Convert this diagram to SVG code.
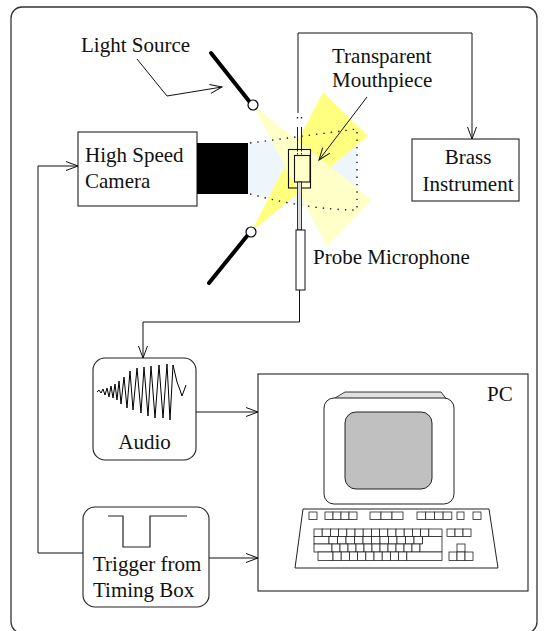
<svg xmlns="http://www.w3.org/2000/svg" width="544" height="631" viewBox="0 0 544 631">
  <defs>
    <marker id="vee" markerUnits="userSpaceOnUse" markerWidth="14" markerHeight="12" refX="12" refY="4.5" orient="auto" overflow="visible">
      <path d="M0,0 L12,4.5 L0,9" fill="none" stroke="#111" stroke-width="1"/>
    </marker>
  </defs>
  <style>
    text { font-family: "Liberation Serif", "Times New Roman", serif; font-size: 21px; fill: #111; }
    .box { fill: #fff; stroke: #222; stroke-width: 1.1; }
    .wire { fill: none; stroke: #111; stroke-width: 1; }
    .dots { fill: none; stroke: #222; stroke-width: 1.4; stroke-dasharray: 1.4 6; }
    .key { fill: #fff; stroke: #222; stroke-width: 0.8; }
    .stand { stroke: #000; stroke-width: 4; stroke-linecap: round; }
    .lamp { fill: #fff; stroke: #000; stroke-width: 1.2; }
  </style>

  <!-- outer frame -->
  <rect x="11" y="7" width="526" height="626" rx="11" fill="#fff" stroke="#333" stroke-width="1.3"/>

  <!-- optical setup: camera field of view and light cones -->
  <g id="optics">
    <path d="M248,143 L357,129 L357,210 Q310,210 248,194 Z" fill="#eef6fc"/>
    <polygon points="251,232 323,92 368,136" fill="#ffff80"/>
    <polygon points="253,105 372,200 327,246" fill="#ffffc8"/>
    <path class="dots" d="M250,143 L357,129 L357,210 Q310,210 250,194"/>
  </g>

  <!-- light sources -->
  <g id="light-top">
    <line class="stand" x1="211" y1="53" x2="249" y2="101"/>
    <circle class="lamp" cx="253" cy="105" r="5"/>
  </g>
  <g id="light-bottom">
    <line class="stand" x1="247" y1="236" x2="209" y2="283"/>
    <circle class="lamp" cx="251" cy="232" r="5"/>
  </g>
  <g id="light-label">
    <text x="81" y="52">Light Source</text>
  </g>

  <!-- camera -->
  <g id="camera">
    <rect class="box" x="78" y="132" width="119" height="74"/>
    <rect x="197" y="143" width="51" height="51" fill="#000"/>
    <text x="85" y="162">High Speed</text>
    <text x="85" y="188">Camera</text>
  </g>

  <!-- mouthpiece with probe tube -->
  <g id="mouthpiece">
    <line x1="297.5" y1="127" x2="297.5" y2="149" stroke="#222" stroke-width="1"/>
    <line x1="301.5" y1="127" x2="301.5" y2="149" stroke="#222" stroke-width="1"/>
    <path class="dots" d="M297.5,117 V122 M301.5,117 V122" stroke-dasharray="1.4 4"/>
    <rect x="288.5" y="149.5" width="22" height="38.5" fill="none" stroke="#111" stroke-width="1.1"/>
    <path d="M297.5,150 V155 M301.5,150 V155" stroke="#222" stroke-width="1" stroke-dasharray="1.5 1.5"/>
    <rect x="294.5" y="155.5" width="15.5" height="26.5" fill="#ffffc8" stroke="#111" stroke-width="1.1"/>
    <text x="332" y="63">Transparent</text>
    <text x="332" y="87">Mouthpiece</text>
  </g>

  <!-- probe microphone -->
  <g id="probe">
    <rect x="297.5" y="182" width="4" height="48" fill="#ddd" stroke="#222" stroke-width="0.9"/>
    <rect x="296" y="230" width="9" height="60" fill="#fff" stroke="#111" stroke-width="1"/>
    <text x="313" y="264">Probe Microphone</text>
  </g>

  <!-- brass instrument -->
  <g id="brass">
    <rect class="box" x="412" y="139" width="107" height="62"/>
    <text x="468" y="164" text-anchor="middle">Brass</text>
    <text x="468" y="191" text-anchor="middle">Instrument</text>
  </g>

  <!-- audio -->
  <g id="audio">
    <rect class="box" x="93" y="358" width="103" height="102" rx="12"/>
    <polyline fill="none" stroke="#000" stroke-width="1" stroke-linejoin="miter" points="97,392 99,390 101,393 103,389 105,395 107,388 109,397 111,386 113,398 115,384 117,400 119,381 121,404 124,377 127,408 130,371 133,410 137,368 141,413 144,367 148,416 151,366 155,418 159,365 163,418 167,364 170,420 173,365 177,382 180,390 182,396 186,385"/>
    <text x="144.5" y="449" text-anchor="middle">Audio</text>
  </g>

  <!-- trigger -->
  <g id="trigger">
    <rect class="box" x="83" y="507" width="126" height="100" rx="12"/>
    <polyline fill="none" stroke="#222" stroke-width="1.2" points="108,516 123,516 123,547 150,547 150,516 187,516"/>
    <text x="93" y="571">Trigger from</text>
    <text x="93" y="597">Timing Box</text>
  </g>

  <!-- PC -->
  <g id="pc">
    <rect class="box" x="258" y="374" width="270" height="217"/>
    <text x="487" y="401">PC</text>
    <!-- monitor -->
    <polygon points="345,392 441,392 448,401 330,401" fill="#e0e0e0" stroke="#222" stroke-width="0.9"/>
    <rect x="324" y="398" width="130" height="106" rx="10" fill="#fff" stroke="#222" stroke-width="1"/>
    <rect x="345" y="412" width="87" height="77" rx="11" fill="#c0c0c0" stroke="#222" stroke-width="1"/>
    <!-- keyboard -->
    <polygon points="303,509 489,509 498,568 295,568" fill="#fff" stroke="#222" stroke-width="1"/>
    <g id="keys">
      <!-- function row -->
      <rect class="key" x="309" y="512" width="8" height="7.5"/>
      <rect class="key" x="325" y="512" width="8" height="7.5"/>
      <rect class="key" x="333" y="512" width="8" height="7.5"/>
      <rect class="key" x="341" y="512" width="8" height="7.5"/>
      <rect class="key" x="349" y="512" width="8" height="7.5"/>
      <rect class="key" x="370" y="512" width="11" height="7.5"/>
      <rect class="key" x="381" y="512" width="11" height="7.5"/>
      <rect class="key" x="392" y="512" width="11" height="7.5"/>
      <rect class="key" x="417" y="512" width="8.7" height="7.5"/>
      <rect class="key" x="425.7" y="512" width="8.7" height="7.5"/>
      <rect class="key" x="434.4" y="512" width="8.7" height="7.5"/>
      <rect class="key" x="443.1" y="512" width="8.7" height="7.5"/>
      <rect class="key" x="457" y="512" width="7" height="7.5"/>
      <rect class="key" x="473" y="512" width="8" height="7.5"/>
      <!-- row 1 -->
      <rect class="key" x="314" y="529" width="8.2" height="7.5"/>
      <rect class="key" x="322.2" y="529" width="8.2" height="7.5"/>
      <rect class="key" x="330.4" y="529" width="8.2" height="7.5"/>
      <rect class="key" x="338.6" y="529" width="8.2" height="7.5"/>
      <rect class="key" x="346.8" y="529" width="8.2" height="7.5"/>
      <rect class="key" x="355" y="529" width="8.2" height="7.5"/>
      <rect class="key" x="363.2" y="529" width="8.2" height="7.5"/>
      <rect class="key" x="371.4" y="529" width="8.2" height="7.5"/>
      <rect class="key" x="379.6" y="529" width="8.2" height="7.5"/>
      <rect class="key" x="387.8" y="529" width="8.2" height="7.5"/>
      <rect class="key" x="396" y="529" width="8.2" height="7.5"/>
      <rect class="key" x="404.2" y="529" width="8.2" height="7.5"/>
      <rect class="key" x="412.4" y="529" width="8.2" height="7.5"/>
      <rect class="key" x="420.6" y="529" width="8.2" height="7.5"/>
      <rect class="key" x="428.8" y="529" width="13.2" height="7.5"/>
      <!-- row 2 -->
      <rect class="key" x="314" y="536.5" width="15" height="7.5"/>
      <rect class="key" x="329" y="536.5" width="8.5" height="7.5"/>
      <rect class="key" x="337.5" y="536.5" width="8.5" height="7.5"/>
      <rect class="key" x="346" y="536.5" width="8.5" height="7.5"/>
      <rect class="key" x="354.5" y="536.5" width="8.5" height="7.5"/>
      <rect class="key" x="363" y="536.5" width="8.5" height="7.5"/>
      <rect class="key" x="371.5" y="536.5" width="8.5" height="7.5"/>
      <rect class="key" x="380" y="536.5" width="8.5" height="7.5"/>
      <rect class="key" x="388.5" y="536.5" width="8.5" height="7.5"/>
      <rect class="key" x="397" y="536.5" width="8.5" height="7.5"/>
      <rect class="key" x="405.5" y="536.5" width="8.5" height="7.5"/>
      <rect class="key" x="414" y="536.5" width="8.5" height="7.5"/>
      <!-- row 3 -->
      <rect class="key" x="314" y="544" width="18" height="8"/>
      <rect class="key" x="332" y="544" width="8" height="8"/>
      <rect class="key" x="340" y="544" width="8" height="8"/>
      <rect class="key" x="348" y="544" width="8" height="8"/>
      <rect class="key" x="356" y="544" width="8" height="8"/>
      <rect class="key" x="364" y="544" width="8" height="8"/>
      <rect class="key" x="372" y="544" width="8" height="8"/>
      <rect class="key" x="380" y="544" width="8" height="8"/>
      <rect class="key" x="388" y="544" width="8" height="8"/>
      <rect class="key" x="396" y="544" width="8" height="8"/>
      <rect class="key" x="404" y="544" width="8" height="8"/>
      <rect class="key" x="412" y="544" width="8" height="8"/>
      <!-- enter -->
      <polygon class="key" points="422.5,536.5 442,536.5 442,552 420,552 420,544 422.5,544"/>
      <!-- row 4 -->
      <rect class="key" x="318" y="552" width="15" height="8.5"/>
      <rect class="key" x="333" y="552" width="8.2" height="8.5"/>
      <rect class="key" x="341.2" y="552" width="8.2" height="8.5"/>
      <rect class="key" x="349.4" y="552" width="8.2" height="8.5"/>
      <rect class="key" x="357.6" y="552" width="8.2" height="8.5"/>
      <rect class="key" x="365.8" y="552" width="8.2" height="8.5"/>
      <rect class="key" x="374" y="552" width="8.2" height="8.5"/>
      <rect class="key" x="382.2" y="552" width="8.2" height="8.5"/>
      <rect class="key" x="390.4" y="552" width="8.2" height="8.5"/>
      <rect class="key" x="398.6" y="552" width="8.2" height="8.5"/>
      <rect class="key" x="406.8" y="552" width="35.2" height="8.5"/>
      <!-- right cluster -->
      <rect class="key" x="447" y="529" width="8" height="7.5"/>
      <rect class="key" x="455" y="529" width="8" height="7.5"/>
      <rect class="key" x="463" y="529" width="8" height="7.5"/>
      <rect class="key" x="457" y="544" width="8" height="8"/>
      <rect class="key" x="449" y="552" width="8" height="8.5"/>
      <rect class="key" x="457" y="552" width="8" height="8.5"/>
      <rect class="key" x="465" y="552" width="8" height="8.5"/>
    </g>
  </g>

  <!-- connectors -->
  <g id="connectors">
    <polyline class="wire" points="137,59 167,96 222,87" marker-end="url(#vee)"/>
    <line class="wire" x1="367" y1="97" x2="319" y2="160" marker-end="url(#vee)"/>
    <polyline class="wire" points="298,113 298,33 472,33 472,139" marker-end="url(#vee)"/>
    <polyline class="wire" points="299.5,290 299.5,322 143,322 143,358" marker-end="url(#vee)"/>
    <line class="wire" x1="196" y1="412" x2="258" y2="412" marker-end="url(#vee)"/>
    <line class="wire" x1="209" y1="558" x2="258" y2="558" marker-end="url(#vee)"/>
    <polyline class="wire" points="83,553 38,553 38,166 78,166" marker-end="url(#vee)"/>
  </g>
</svg>
